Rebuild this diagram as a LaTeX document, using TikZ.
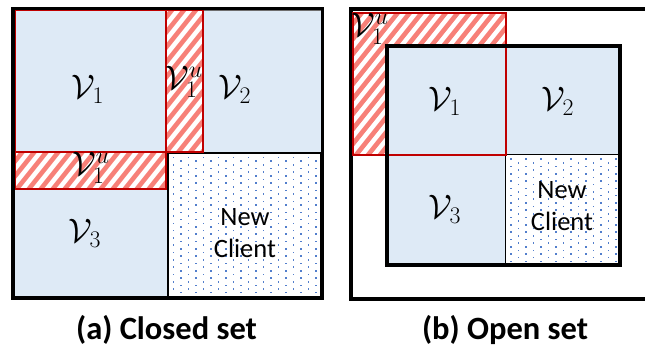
\RequirePackage{fix-cm}
\documentclass[tikz,border=0pt]{standalone}
\usepackage{fontspec}
\setsansfont{Carlito}

\definecolor{cellblue}{RGB}{222,234,246}
\definecolor{cellgray}{RGB}{110,110,110}
\definecolor{hatchred}{RGB}{247,128,120}
\definecolor{frameRed}{RGB}{192,0,0}
\definecolor{dotblue}{RGB}{82,126,204}

\tikzset{
  cell/.style={fill=cellblue, draw=cellgray, line width=0.8pt},
  newcell/.style={fill=white, draw=black, line width=1.6pt},
  redframe/.style={draw=frameRed, line width=2pt},
  blackframe/.style={draw=black, line width=3.4pt},
  hatchline/.style={draw=hatchred, line width=4.6pt},
  mathlabel/.style={inner sep=0pt, font=\fontsize{34}{34}\selectfont},
  clientlabel/.style={inner sep=0pt, align=center, font=\sffamily\fontsize{26.5}{32}\selectfont},
  caption/.style={inner sep=0pt, anchor=base, font=\sffamily\bfseries\fontsize{32.5}{36}\selectfont}
}

% diagonal red hatching inside a rectangle (x1,y1)-(x2,y2)
\newcommand{\hatchrect}[4]{%
  \begin{scope}
    \clip (#1,#2) rectangle (#3,#4);
    \fill[white] (#1,#2) rectangle (#3,#4);
    \foreach \k in {-24,...,56}
      \draw[hatchline] ({\k*12},330) -- ++(264,-330);
  \end{scope}}

% blue dot grid inside a rectangle (x1,y1)-(x2,y2)
\newcommand{\dotrect}[4]{%
  \begin{scope}
    \clip (#1,#2) rectangle (#3,#4);
    \foreach \i in {0,...,21}
      \foreach \j in {0,...,20}
        \fill[dotblue] ({#1+4+\i*7.5},{#2+3+\j*7.3+mod(\i,2)*3.65}) rectangle ++(1.2,1.6);
  \end{scope}}

\begin{document}
\begin{tikzpicture}[x=1pt,y=-1pt]
\useasboundingbox (0,0) rectangle (645,348);

% ---------- (a) closed set ----------
\fill[white] (13,8.5) rectangle (322.5,298);
\path[cell] (14.5,10) rectangle (166,152);
\path[cell] (203,10) rectangle (321,152);
\path[cell] (14.5,189) rectangle (167,296.5);
\path[newcell] (168,153) rectangle (321,296.5);
\dotrect{168.8}{153.8}{320.2}{295.7}
\hatchrect{166}{10}{203}{152}
\hatchrect{14.5}{152}{166}{189}
\draw[redframe] (14.5,10) rectangle (166,152);
\draw[redframe] (166,10) rectangle (203,152);
\draw[redframe] (14.5,152) rectangle (166,189);
\draw[blackframe] (13,8.5) rectangle (322.5,298);

\node[mathlabel] (a1)  at (88,89)   {$\mathcal{V}_1$};
\node[mathlabel] (a1v) at (184,82)  {$\mathcal{V}_1^u$};
\node[mathlabel] (a2)  at (235,89)  {$\mathcal{V}_2$};
\node[mathlabel] (a1h) at (91,168)  {$\mathcal{V}_1^u$};
\node[mathlabel] (a3)  at (85,233)  {$\mathcal{V}_3$};
\node[clientlabel] (anew) at (245,233) {New\\Client};
\node[caption] (capa) at (166.5,339) {(a) Closed set};

% ---------- (b) open set ----------
\draw[blackframe] (351,9) rectangle (652,299);
\hatchrect{352.5}{12.5}{505.5}{154.5}
\path[cell] (387,46) rectangle (505.5,154.5);
\path[cell] (505.5,46) rectangle (620,154.5);
\path[cell] (387,154.5) rectangle (505.5,265);
\path[newcell] (505.5,154.5) rectangle (620,265);
\dotrect{506.3}{155.3}{619.2}{264.2}
\draw[redframe] (352.5,12.5) rectangle (505.5,154.5);
\draw[blackframe] (387,46) rectangle (620,265);

\node[mathlabel] (b1u) at (370,29)  {$\mathcal{V}_1^u$};
\node[mathlabel] (b1)  at (445,101) {$\mathcal{V}_1$};
\node[mathlabel] (b2)  at (558,101) {$\mathcal{V}_2$};
\node[mathlabel] (b3)  at (445,209) {$\mathcal{V}_3$};
\node[clientlabel] (bnew) at (562,206) {New\\Client};
\node[caption] (capb) at (505,339) {(b) Open set};
\end{tikzpicture}
\end{document}
